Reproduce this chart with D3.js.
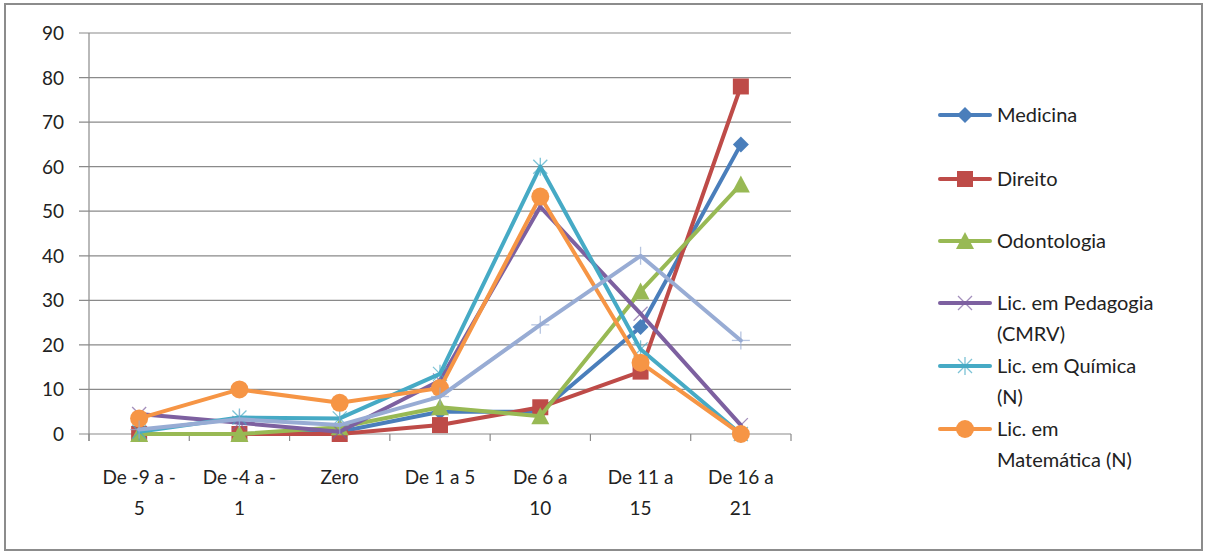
<!DOCTYPE html>
<html>
<head>
<meta charset="utf-8">
<script src="https://cdn.jsdelivr.net/npm/d3@7"></script>
<style>
  body { margin: 0; background: #fff; }
  svg { font-family: Lato, "Open Sans", sans-serif; }
</style>
</head>
<body>
<svg id="canvas" width="1208" height="552"></svg>
<script>
// categories and tick labels
const categories = [
  ["De -9 a -", "5"], ["De -4 a -", "1"], ["Zero"], ["De 1 a 5"],
  ["De 6 a", "10"], ["De 11 a", "15"], ["De 16 a", "21"]
];
const yTicks = [0, 10, 20, 30, 40, 50, 60, 70, 80, 90];

// series values
const medicina = [0, 0, 0.5, 5, 5, 24, 65];
const direito = [0, 0, 0, 2, 6, 14, 78];
const odontologia = [0, 0, 1.5, 6, 4, 32, 56];
const pedagogia = [4.5, 2.5, 0.5, 12, 51, 27, 2];
const quimica = [0.5, 3.7, 3.5, 13.5, 60, 19, 0];
const matematica = [3.5, 10, 7, 10.3, 53.3, 16, 0];
const setimo = [1, 3.3, 2, 8.4, 24.5, 40, 21];

const series = [
  { name: ["Medicina"], values: medicina, color: "#4A7EBB", marker: "diamond" },
  { name: ["Direito"], values: direito, color: "#BE4B48", marker: "square" },
  { name: ["Odontologia"], values: odontologia, color: "#98B954", marker: "triangle" },
  { name: ["Lic. em Pedagogia", "(CMRV)"], values: pedagogia, color: "#7D60A0", marker: "x" },
  { name: ["Lic. em Química", "(N)"], values: quimica, color: "#46AAC5", marker: "star" },
  { name: ["Lic. em", "Matemática (N)"], values: matematica, color: "#F69545", marker: "circle" },
  { name: null, values: setimo, color: "#98ACD4", marker: "plus" }
];

let canvas = d3.select("#canvas");

// outer frame
canvas.append("rect")
  .attr("x", 5).attr("y", 4).attr("width", 1197).attr("height", 546)
  .attr("fill", "none").attr("stroke", "#8c8c8c").attr("stroke-width", 2);

let x = d3.scaleBand().domain(d3.range(categories.length)).range([89, 791]);
let y = d3.scaleLinear().domain([0, 90]).range([434, 33]);

// gridlines
canvas.append("g")
  .selectAll("line")
  .data(yTicks)
  .enter()
  .append("line")
  .attr("x1", 79).attr("x2", 791)
  .attr("y1", (d) => y(d)).attr("y2", (d) => y(d))
  .attr("stroke", "#8a8a8a").attr("stroke-width", 1.2);

// y axis line
canvas.append("line")
  .attr("x1", 89).attr("x2", 89).attr("y1", y(90)).attr("y2", 441)
  .attr("stroke", "#8a8a8a").attr("stroke-width", 1.2);

// x tick marks
canvas.append("g")
  .selectAll("line")
  .data(d3.range(categories.length + 1))
  .enter()
  .append("line")
  .attr("x1", (d) => 89 + d * x.step()).attr("x2", (d) => 89 + d * x.step())
  .attr("y1", 434).attr("y2", 441)
  .attr("stroke", "#8a8a8a").attr("stroke-width", 1.2);

// y labels
canvas.append("g")
  .selectAll("text")
  .data(yTicks)
  .enter()
  .append("text")
  .attr("x", 64).attr("y", (d) => y(d) + 7)
  .attr("text-anchor", "end")
  .attr("font-size", 19).attr("fill", "#222")
  .text((d) => d);

// x labels
let xl = canvas.append("g")
  .selectAll("text")
  .data(categories)
  .enter()
  .append("text")
  .attr("x", (d, i) => x(i) + x.bandwidth() / 2)
  .attr("y", 484)
  .attr("text-anchor", "middle")
  .attr("font-size", 19).attr("fill", "#222");
xl.selectAll("tspan")
  .data((d) => d)
  .enter()
  .append("tspan")
  .attr("x", function () { return d3.select(this.parentNode).attr("x"); })
  .attr("dy", (d, i) => (i === 0 ? 0 : 31))
  .text((d) => d);

let drawMarker = (g, type, color, cx, cy) => {
  if (type === "diamond") {
    g.append("path").attr("d", `M${cx},${cy - 8}L${cx + 8},${cy}L${cx},${cy + 8}L${cx - 8},${cy}Z`)
      .attr("fill", color);
  } else if (type === "square") {
    g.append("rect").attr("x", cx - 8).attr("y", cy - 8).attr("width", 16).attr("height", 16)
      .attr("fill", color);
  } else if (type === "triangle") {
    g.append("path").attr("d", `M${cx},${cy - 9}L${cx + 9},${cy + 8}L${cx - 9},${cy + 8}Z`)
      .attr("fill", color);
  } else if (type === "circle") {
    g.append("circle").attr("cx", cx).attr("cy", cy).attr("r", 9).attr("fill", color);
  } else {
    let segs = [];
    if (type === "x" || type === "star") {
      segs.push([-7, -7, 7, 7], [-7, 7, 7, -7]);
    }
    if (type === "star" || type === "plus") {
      segs.push([0, -9, 0, 9]);
    }
    if (type === "plus") {
      segs.push([-9, 0, 9, 0]);
    }
    segs.forEach((s) => {
      g.append("line")
        .attr("x1", cx + s[0]).attr("y1", cy + s[1]).attr("x2", cx + s[2]).attr("y2", cy + s[3])
        .attr("stroke", color).attr("stroke-width", 1.3).attr("opacity", 0.7);
    });
  }
};

let line = d3.line()
  .x((d, i) => x(i) + x.bandwidth() / 2)
  .y((d) => y(d));

series.forEach((s) => {
  let g = canvas.append("g");
  g.append("path")
    .attr("d", line(s.values))
    .attr("fill", "none").attr("stroke", s.color)
    .attr("stroke-width", 4).attr("stroke-linejoin", "round").attr("stroke-linecap", "round");
  s.values.forEach((v, i) => {
    drawMarker(g, s.marker, s.color, x(i) + x.bandwidth() / 2, y(v));
  });
});

// legend
let legendY = [115, 179, 241, 303, 366, 429];
series.forEach((s, i) => {
  if (!s.name) return;
  let g = canvas.append("g");
  let ly = legendY[i];
  g.append("line").attr("x1", 940).attr("x2", 990).attr("y1", ly).attr("y2", ly)
    .attr("stroke", s.color).attr("stroke-width", 4).attr("stroke-linecap", "round");
  drawMarker(g, s.marker, s.color, 965, ly);
  let t = g.append("text").attr("x", 997).attr("y", ly + 7)
    .attr("font-size", 20).attr("fill", "#222");
  s.name.forEach((n, k) => {
    t.append("tspan").attr("x", 997).attr("dy", k === 0 ? 0 : 31).text(n);
  });
});
</script>
</body>
</html>
